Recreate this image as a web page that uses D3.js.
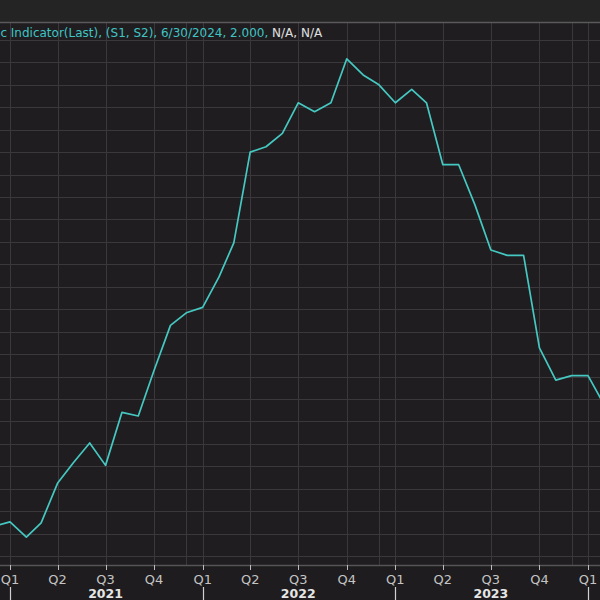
<!DOCTYPE html>
<html>
<head>
<meta charset="utf-8">
<script src="https://cdn.jsdelivr.net/npm/d3@7"></script>
<style>
  html, body { margin: 0; padding: 0; background: #242424; }
  svg { display: block; }
</style>
</head>
<body>
<svg id="chart" width="600" height="600"></svg>
<script>
const months = [
  "2020-12","2021-01","2021-02","2021-03","2021-04","2021-05","2021-06","2021-07",
  "2021-08","2021-09","2021-10","2021-11","2021-12","2022-01","2022-02","2022-03",
  "2022-04","2022-05","2022-06","2022-07","2022-08","2022-09","2022-10","2022-11",
  "2022-12","2023-01","2023-02","2023-03","2023-04","2023-05","2023-06","2023-07",
  "2023-08","2023-09","2023-10","2023-11","2023-12","2024-01","2024-02"
];
const values = [
  1.33, 1.38, 1.21, 1.37, 1.81, 2.04, 2.26, 2.01,
  2.60, 2.56, 3.07, 3.57, 3.71, 3.77, 4.11, 4.49,
  5.50, 5.56, 5.71, 6.05, 5.95, 6.05, 6.54, 6.36,
  6.25, 6.05, 6.20, 6.05, 5.36, 5.36, 4.91, 4.41,
  4.35, 4.35, 3.32, 2.96, 3.01, 3.01, 2.68
];
const quarterLabels = ["Q1","Q2","Q3","Q4"];
const yearLabels = ["2021","2022","2023"];
const legendPrefix = "Economic Indicator(Last), (S1, S2), 6/30/2024, 2.000, ";
const legendSuffix = "N/A, N/A";

// ---- layout ----
const W = 600, H = 600;
const plotTop = 22, plotBottom = 565;
const svg = d3.select("#chart");
const parse = d3.timeParse("%Y-%m");

const x = d3.scaleTime()
  .domain([new Date(2021, 0, 1), new Date(2024, 0, 1)])
  .range([10, 588]);
const y = d3.scaleLinear()
  .domain([0.9, 6.95])
  .range([plotBottom, plotTop]);

// backgrounds
svg.append("rect").attr("x", 0).attr("y", 0).attr("width", W).attr("height", H).attr("fill", "#242424");
svg.append("rect").attr("x", 0).attr("y", plotTop).attr("width", W).attr("height", plotBottom - plotTop).attr("fill", "#1f1d1f");
svg.append("rect").attr("x", 0).attr("y", plotBottom).attr("width", W).attr("height", H - plotBottom).attr("fill", "#1e1c1e");

// clip
svg.append("clipPath").attr("id", "plotClip")
  .append("rect").attr("x", 0).attr("y", plotTop).attr("width", W).attr("height", plotBottom - plotTop);

const grid = svg.append("g").attr("clip-path", "url(#plotClip)");

// horizontal gridlines
const yGrid = d3.range(1.0, 6.76, 0.25);
grid.selectAll("line.hg").data(yGrid).join("line")
  .attr("class", "hg")
  .attr("x1", 0).attr("x2", W)
  .attr("y1", d => Math.round(y(d)) + 0.5).attr("y2", d => Math.round(y(d)) + 0.5)
  .attr("stroke", "#3a383a").attr("stroke-width", 1);

// vertical gridlines: quarter starts and December starts
const quarterDates = d3.timeMonth.every(3).range(new Date(2020, 9, 1), new Date(2024, 3, 1));
const decDates = [new Date(2020, 11, 1), new Date(2021, 11, 1), new Date(2022, 11, 1), new Date(2023, 11, 1)];
grid.selectAll("line.vg").data(quarterDates.concat(decDates)).join("line")
  .attr("class", "vg")
  .attr("x1", d => Math.round(x(d)) + 0.5).attr("x2", d => Math.round(x(d)) + 0.5)
  .attr("y1", plotTop).attr("y2", plotBottom)
  .attr("stroke", "#3a383a").attr("stroke-width", 1);

// top border & axis line
svg.append("line").attr("x1", 0).attr("x2", W).attr("y1", plotTop + 0.5).attr("y2", plotTop + 0.5)
  .attr("stroke", "#5a5a5a").attr("stroke-width", 1.5);
svg.append("line").attr("x1", 0).attr("x2", W).attr("y1", plotBottom + 0.5).attr("y2", plotBottom + 0.5)
  .attr("stroke", "#555555").attr("stroke-width", 1.5);

// data line
const data = months.map((m, i) => ({ date: parse(m), value: values[i] }));
const line = d3.line().x(d => x(d.date)).y(d => y(d.value));
svg.append("g").attr("clip-path", "url(#plotClip)")
  .append("path").datum(data)
  .attr("d", line)
  .attr("fill", "none")
  .attr("stroke", "#46c8c2")
  .attr("stroke-width", 1.7)
  .attr("stroke-linejoin", "round");

// x axis: quarter ticks and labels
const axisG = svg.append("g");
axisG.selectAll("line.qt").data(quarterDates).join("line")
  .attr("class", "qt")
  .attr("x1", d => Math.round(x(d)) + 0.5).attr("x2", d => Math.round(x(d)) + 0.5)
  .attr("y1", plotBottom).attr("y2", plotBottom + 5)
  .attr("stroke", "#bdbdbd").attr("stroke-width", 1);
axisG.selectAll("text.ql").data(quarterDates).join("text")
  .attr("class", "ql")
  .attr("x", d => x(d)).attr("y", 584)
  .attr("text-anchor", "middle")
  .attr("font-family", "'DejaVu Sans', sans-serif")
  .attr("font-size", 13)
  .attr("fill", "#c4c4c4")
  .text(d => quarterLabels[Math.floor(d.getMonth() / 3)]);

// year separators
const yearStarts = [new Date(2021, 0, 1), new Date(2022, 0, 1), new Date(2023, 0, 1), new Date(2024, 0, 1)];
axisG.selectAll("line.ys").data(yearStarts).join("line")
  .attr("class", "ys")
  .attr("x1", d => Math.round(x(d)) + 0.5).attr("x2", d => Math.round(x(d)) + 0.5)
  .attr("y1", 587).attr("y2", H)
  .attr("stroke", "#d0d0d0").attr("stroke-width", 1.2);

// year labels at mid-year
axisG.selectAll("text.yl").data(yearLabels).join("text")
  .attr("class", "yl")
  .attr("x", d => x(new Date(+d, 6, 1)))
  .attr("y", 598)
  .attr("text-anchor", "middle")
  .attr("font-family", "'DejaVu Sans', sans-serif")
  .attr("font-weight", "bold")
  .attr("font-size", 12.5)
  .attr("fill", "#e6e6e6")
  .text(d => d);

// legend text (cut off at left, as in the reference)
const leg = svg.append("text")
  .attr("x", 7).attr("y", 37)
  .attr("font-family", "'DejaVu Sans', sans-serif")
  .attr("font-size", 12);
leg.append("tspan").attr("fill", "#3fc4c4").text(legendPrefix);
leg.append("tspan").attr("fill", "#e0e0e0").text(legendSuffix);
// shift so that "Indicator" starts near x=7
const tmp = svg.append("text").attr("font-family", "'DejaVu Sans', sans-serif").attr("font-size", 12).text("Economic ");
const pre = tmp.node().getComputedTextLength();
tmp.remove();
leg.attr("x", 7 - pre);
</script>
</body>
</html>
